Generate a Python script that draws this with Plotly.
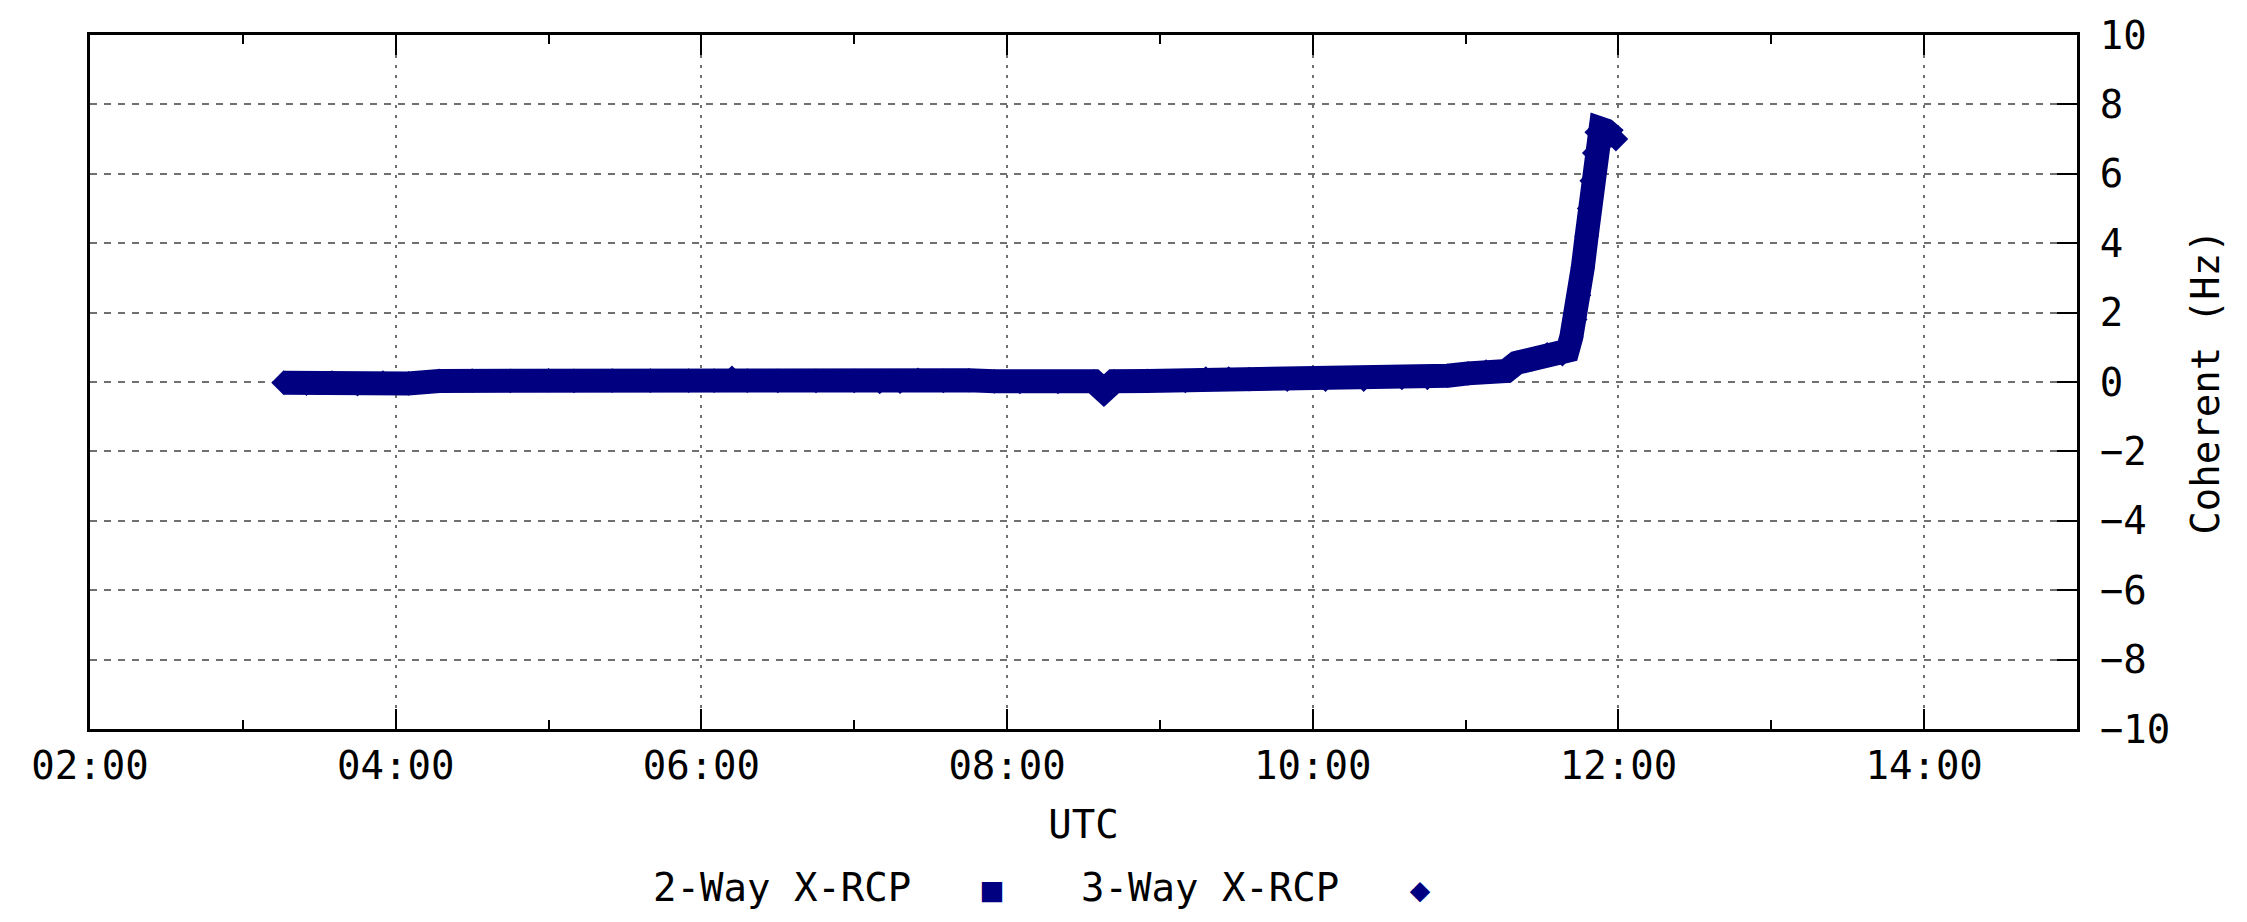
import plotly.graph_objects as go

# 3-Way X-RCP coherent residuals
DAY = "2000-01-01 "
utc_times = [
    "03:16", "03:25", "03:35", "03:45", "03:55", "04:05", "04:17", "04:30",
    "04:45", "05:00", "05:10", "05:25", "05:40", "05:55", "06:05", "06:12",
    "06:18", "06:30", "06:45", "07:00", "07:10", "07:18", "07:25", "07:35",
    "07:45", "07:55", "08:05", "08:20", "08:34", "08:38", "08:42", "08:55",
    "09:10", "09:18", "09:27", "09:35", "09:50", "10:05", "10:20", "10:35",
    "10:45", "10:53", "11:01", "11:08", "11:16", "11:20", "11:26", "11:32",
    "11:38", "11:40", "11:41:30", "11:43", "11:44:30", "11:46", "11:47:30",
    "11:48:30", "11:49:30", "11:50:30", "11:51:30", "11:53", "11:55", "11:57", "11:59",
]
coherent_hz = [
    -0.02, -0.05, -0.02, -0.06, -0.02, -0.04, 0.03, 0.04,
    0.03, 0.05, 0.03, 0.04, 0.04, 0.04, 0.04, 0.12,
    0.04, 0.03, 0.03, 0.03, 0.00, 0.01, 0.06, 0.03,
    0.05, 0.02, 0.00, 0.00, 0.02, -0.25, 0.02, 0.03,
    0.03, 0.10, 0.10, 0.08, 0.07, 0.07, 0.07, 0.12,
    0.12, 0.18, 0.25, 0.30, 0.32, 0.55, 0.65, 0.80,
    0.80, 0.90, 1.30, 1.80, 2.50, 3.30, 4.20,
    5.00, 5.80, 6.60, 7.20, 7.30, 7.25, 7.10, 7.00,
]
y_ticks = list(range(-10, 11, 2))
legend_names = ["2-Way X-RCP", "3-Way X-RCP"]
legend_symbols = ["\u25A0", "\u25C6"]

NAVY = "#000080"
FONT = "DejaVu Sans Mono"
GRID = "#707070"

fig = go.Figure()
fig.add_trace(go.Scatter(
    x=[DAY + t for t in utc_times],
    y=coherent_hz,
    mode="lines+markers",
    name=legend_names[1],
    line=dict(color=NAVY, width=24),
    marker=dict(symbol="diamond", size=19, color=NAVY),
    showlegend=False,
))

fig.update_layout(
    width=2247,
    height=922,
    margin=dict(l=82, r=178, t=27, b=201),
    paper_bgcolor="white",
    plot_bgcolor="white",
    font=dict(family=FONT, size=39, color="black"),
    showlegend=False,
)

fig.update_xaxes(
    type="date",
    automargin=False,
    range=[DAY + "02:00", DAY + "15:00"],
    dtick=7200000,
    tick0=DAY + "02:00",
    tickformat="%H:%M",
    ticks="inside",
    ticklen=20,
    tickwidth=2,
    tickcolor="black",
    minor=dict(ticks="inside", ticklen=9, tickwidth=2, dtick=3600000,
               tickcolor="black", showgrid=False),
    ticklabelstandoff=0,
    showline=True,
    linecolor="black",
    linewidth=3,
    mirror="ticks",
    showgrid=True,
    gridcolor=GRID,
    gridwidth=2,
    griddash="3px,7px",
    zeroline=False,
    title=dict(text="UTC", standoff=24, font=dict(family=FONT, size=39)),
)

fig.update_yaxes(
    automargin=False,
    range=[-10, 10],
    tickvals=y_ticks,
    side="right",
    ticks="inside",
    ticklen=20,
    tickwidth=2,
    tickcolor="black",
    ticklabelstandoff=12,
    showline=True,
    linecolor="black",
    linewidth=3,
    mirror=True,
    showgrid=True,
    gridcolor=GRID,
    gridwidth=2,
    griddash="7px,7px",
    zeroline=False,
    title=dict(text="Coherent (Hz)", standoff=23, font=dict(family=FONT, size=39)),
)

# legend drawn as text with the symbol after the label, as in the original
for i, (name, sym) in enumerate(zip(legend_names, legend_symbols)):
    fig.add_annotation(
        xref="paper", yref="paper", x=0, y=0,
        xanchor="left", yanchor="middle",
        xshift=561 + i * 428, yshift=-158,
        showarrow=False,
        text=f"{name}   <span style='font-size:34px;color:{NAVY}'>{sym}</span>",
        font=dict(family=FONT, size=39, color="black"),
    )

fig.write_html("out.html")
